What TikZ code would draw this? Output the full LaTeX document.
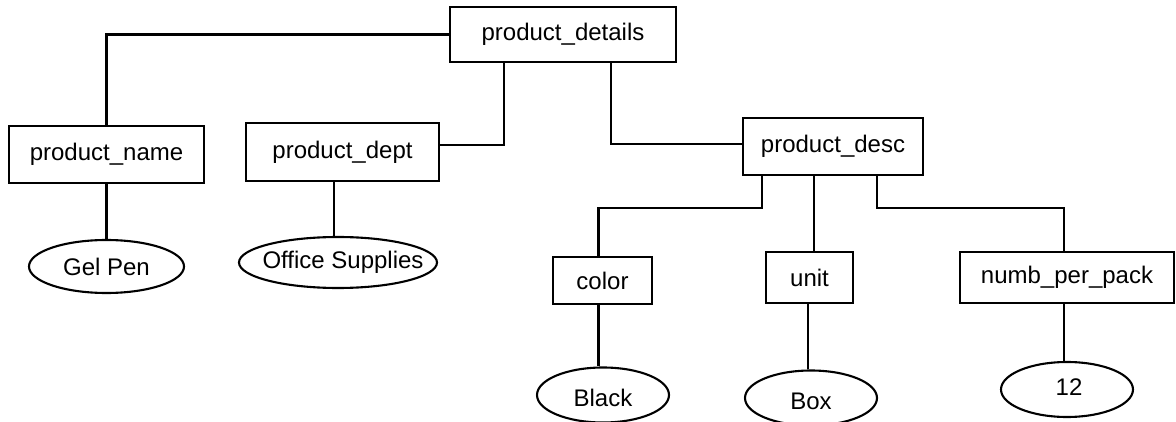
\documentclass[tikz,border=0pt]{standalone}
\usepackage{fontspec}
\setmainfont{Liberation Sans}
\usetikzlibrary{shapes.geometric}
\begin{document}
\begin{tikzpicture}[x=1pt,y=-1pt,
  every node/.style={font=\fontsize{24}{28}\selectfont, inner sep=0pt},
  every label/.style={font=\fontsize{24}{28}\selectfont, inner sep=0pt},
  fbox/.style={draw, line width=2.1pt, rectangle},
  fell/.style={draw, line width=2.1pt, ellipse},
  conn/.style={line width=2.1pt}]
\useasboundingbox (0,0) rectangle (1176,422);
% boxes
\node[fbox, minimum width=226pt, minimum height=55pt] (details) at (563,34.5) {product\_details};
\node[fbox, minimum width=195pt, minimum height=57pt] (name) at (106.5,154.5) {product\_name};
\node[fbox, minimum width=193pt, minimum height=58pt] (dept) at (342.5,152) {product\_dept};
\node[fbox, minimum width=180pt, minimum height=57pt] (desc) at (833,146.5) {product\_desc};
\node[fbox, minimum width=99pt, minimum height=47pt] (color) at (602.5,280.5) {color};
\node[fbox, minimum width=87pt, minimum height=51pt] (unit) at (809.5,277.5) {unit};
\node[fbox, minimum width=214pt, minimum height=51pt] (numb) at (1067,277.5) {numb\_per\_pack};
% ellipses
\node[fell, minimum width=155pt, minimum height=53pt, label={center:Gel Pen}] (gelpen) at (106.5,266.5) {};
\node[fell, minimum width=198pt, minimum height=51pt, label={[xshift=5pt]center:Office Supplies}] (office) at (338,262.5) {};
\node[fell, minimum width=132pt, minimum height=55pt, label={[yshift=-3pt]center:Black}] (black) at (603,395) {};
\node[fell, minimum width=132pt, minimum height=55pt, label={[yshift=-3pt]center:Box}] (box) at (811,398) {};
\node[fell, minimum width=132pt, minimum height=55pt, label={[xshift=2pt,yshift=2pt]center:12}] (twelve) at (1067,389.5) {};
% connectors
\draw[conn] (details.west) -| (name.north);
\draw[conn] ([xshift=55.4pt]details.south west) |- ([yshift=7pt]dept.east);
\draw[conn] ([xshift=162pt]details.south west) |- ([yshift=2.5pt]desc.west);
\draw[conn] ([xshift=20pt]desc.south west) -- ++(0,31.7) -| ([xshift=-4pt]color.north);
\draw[conn] ([xshift=4.5pt]unit.north) -- ([xshift=4.5pt]unit.north |- desc.south);
\draw[conn] ([xshift=-47pt]desc.south east) -- ++(0,31.7) -| ([xshift=-3pt]numb.north);
\draw[conn] (name.south) -- (gelpen.north);
\draw[conn] ([xshift=-8.5pt]dept.south) -- ([xshift=-8.5pt]dept.south |- office.north);
\draw[conn] ([xshift=-4pt]color.south) -- ([xshift=-4pt]color.south |- black.north);
\draw[conn] ([xshift=-1.5pt]unit.south) -- ([xshift=-1.5pt]unit.south |- box.north);
\draw[conn] ([xshift=-3pt]numb.south) -- ([xshift=-3pt]numb.south |- twelve.north);
\end{tikzpicture}
\end{document}
